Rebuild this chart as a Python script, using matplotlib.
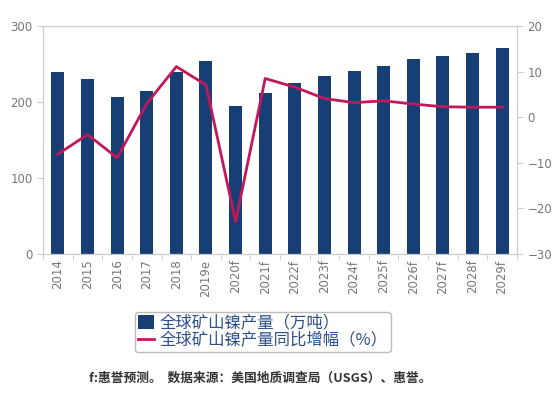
import matplotlib.pyplot as plt
import numpy as np

plt.rcParams['font.family'] = ['Noto Sans CJK SC', 'DejaVu Sans']

# DATA
years = ["2014", "2015", "2016", "2017", "2018", "2019e", "2020f", "2021f",
         "2022f", "2023f", "2024f", "2025f", "2026f", "2027f", "2028f", "2029f"]
output_10kt = [239, 230, 207, 215, 239, 254, 195, 212,
               225, 234, 241, 248, 256, 261, 265, 271]
yoy_pct = [-8.1, -3.8, -8.9, 3.0, 11.1, 7.1, -22.9, 8.5,
           6.6, 4.1, 3.2, 3.6, 2.9, 2.3, 2.2, 2.2]

bar_label = "全球矿山镍产量（万吨）"
line_label = "全球矿山镍产量同比增幅（%）"
note = "f:惠誉预测。  数据来源：美国地质调查局（USGS）、惠誉。"

grey = '#cccccc'
tick_grey = '#777777'

fig = plt.figure(figsize=(5.6, 3.95), dpi=100)
ax = fig.add_axes([0.077, 0.357, 0.846, 0.577])
x = np.arange(len(years))
bars = ax.bar(x, output_10kt, width=0.44, color='#173f75', label=bar_label, zorder=2)
ax.set_xlim(-0.5, len(years) - 0.5)
ax.set_ylim(0, 300)
ax.set_yticks([0, 100, 200, 300])
ax.set_xticks(x)
ax.set_xticklabels(years, rotation=90)
ax.set_xticks(np.arange(-0.5, len(years)), minor=True)

ax2 = ax.twinx()
line, = ax2.plot(x, yoy_pct, color='#c2185b', lw=2, label=line_label, zorder=3)
ax2.set_ylim(-30, 20)
ax2.set_yticks([-30, -20, -10, 0, 10, 20])

for a in (ax, ax2):
    for s in a.spines.values():
        s.set_color(grey)
        s.set_linewidth(0.8)
    a.tick_params(colors=grey, labelcolor=tick_grey, labelsize=8.5, length=4)
    for t in a.get_xticklabels() + a.get_yticklabels():
        t.set_family('DejaVu Sans')
ax.tick_params(axis='x', which='major', length=0, pad=4)
ax.tick_params(axis='x', which='minor', length=4, color=grey)

leg = fig.legend([bars, line], [bar_label, line_label], loc='center',
                 bbox_to_anchor=(0.469, 0.16), fontsize=11.8, frameon=True,
                 handlelength=1.0, handleheight=0.9, handletextpad=0.3,
                 borderpad=0.2, labelspacing=0.0, fancybox=True,
                 borderaxespad=0)
leg.get_frame().set_edgecolor('#aaaaaa')
for t in leg.get_texts():
    t.set_color('#2d4f8a')

fig.text(0.464, 0.043, note, ha='center', va='center', fontsize=9.2,
         fontweight='bold', color='#333333')

plt.savefig("out.png")
plt.close()
